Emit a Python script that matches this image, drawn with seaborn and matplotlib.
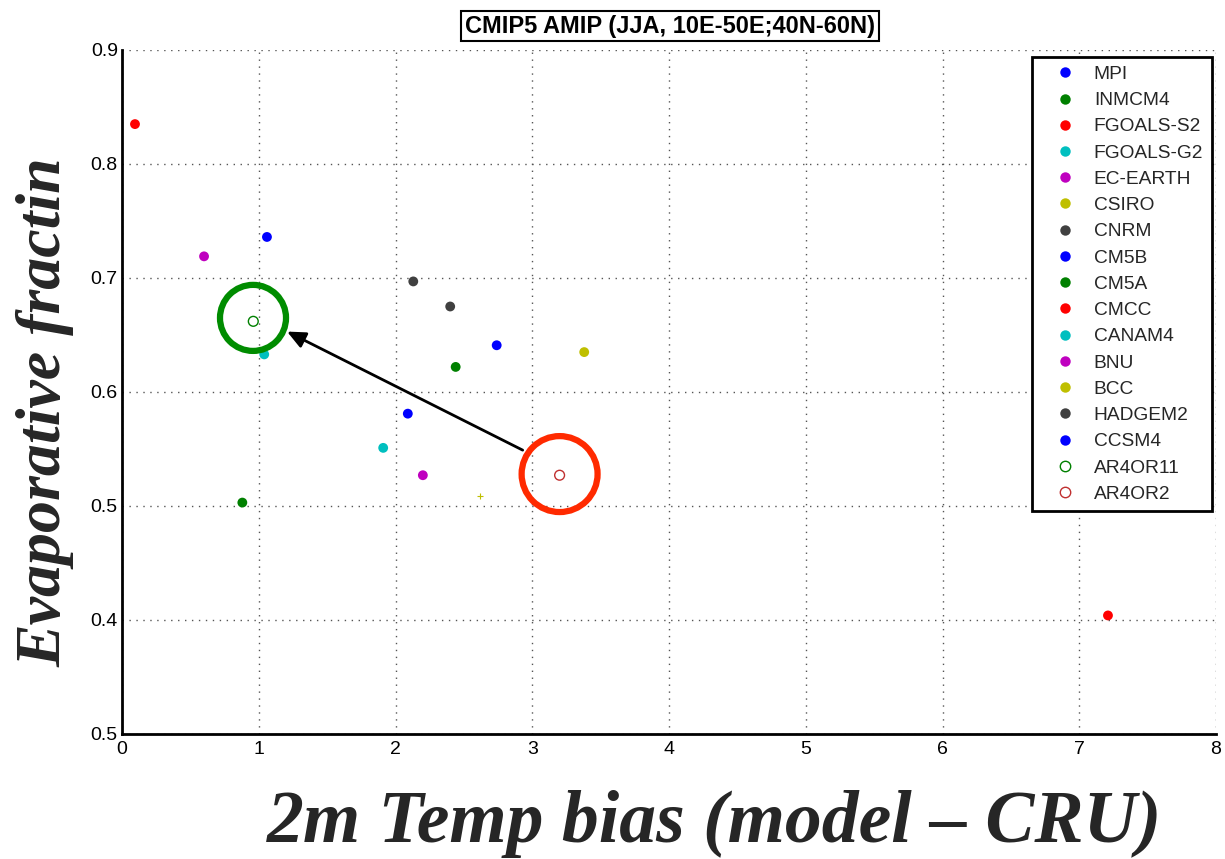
import matplotlib
matplotlib.use("Agg")
import matplotlib.pyplot as plt
from matplotlib.lines import Line2D
import seaborn as sns
import pandas as pd

# ---- data ----
models = ["MPI", "INMCM4", "FGOALS-S2", "FGOALS-G2", "EC-EARTH", "CSIRO", "CNRM",
          "CM5B", "CM5A", "CMCC", "CANAM4", "BNU", "BCC", "HADGEM2", "CCSM4"]
temp_bias = [1.06, 0.88, 0.095, 1.04, 0.60, 2.62, 2.13,
             2.74, 2.44, 7.21, 1.91, 2.20, 3.38, 2.40, 2.09]
evap_frac = [0.736, 0.503, 0.835, 0.633, 0.719, 0.509, 0.697,
             0.641, 0.622, 0.404, 0.551, 0.527, 0.635, 0.675, 0.581]
model_colors = ["#0000ff", "#008000", "#ff0000", "#00bfbf", "#bf00bf", "#bfbf00", "#404040",
                "#0000ff", "#008000", "#ff0000", "#00bfbf", "#bf00bf", "#bfbf00", "#404040", "#0000ff"]

rcm_runs = ["AR4OR11", "AR4OR2"]
rcm_bias = [0.96, 3.20]
rcm_evap = [0.662, 0.527]
rcm_colors = ["#008000", "#c03030"]

# highlight rings (centers) and arrow
ring_x = [0.958, 3.20]
ring_y = [0.665, 0.528]
ring_colors = ["#008c00", "#ff2a00"]
arrow_start = (2.93, 0.549)
arrow_end = (1.207, 0.653)

xticks = [0, 1, 2, 3, 4, 5, 6, 7, 8]
yticks = [0.3, 0.4, 0.5, 0.6, 0.7, 0.8, 0.9]
ytick_labels = ["0.5", "0.4", "0.5", "0.6", "0.7", "0.8", "0.9"]

title = "CMIP5 AMIP (JJA, 10E-50E;40N-60N)"
xlabel = "2m Temp bias (model – CRU)"
ylabel = "Evaporative fractin"

df = pd.DataFrame({"model": models, "bias": temp_bias, "ef": evap_frac})
palette = dict(zip(models, model_colors))

sns.set_style("white")
plt.rcParams["font.family"] = ["Liberation Sans", "DejaVu Sans"]

fig = plt.figure(figsize=(12.25, 8.59), dpi=100)
ax = fig.add_axes([122 / 1225, 1 - 734 / 859, 1094 / 1225, 684 / 859])

small = df["model"] == "CSIRO"
sns.scatterplot(data=df[~small], x="bias", y="ef", hue="model", palette=palette,
                s=50, edgecolor="none", legend=False, ax=ax, zorder=3)
sns.scatterplot(data=df[small], x="bias", y="ef", hue="model", palette=palette,
                s=14, marker="+", linewidth=0.8, legend=False, ax=ax, zorder=3)
for x, y, c in zip(rcm_bias, rcm_evap, rcm_colors):
    ax.scatter([x], [y], s=50, facecolors="none", edgecolors=c, linewidths=1.0, zorder=3)

# rings and arrow
for x, y, c, s in zip(ring_x, ring_y, ring_colors, [2260, 2990]):
    ax.scatter([x], [y], s=s, facecolors="none", edgecolors=c, linewidths=4.5, zorder=4)
ax.annotate("", xy=arrow_end, xytext=arrow_start,
            arrowprops=dict(arrowstyle="-|>,head_length=1.1,head_width=0.5",
                            color="black", lw=2.0, shrinkA=0, shrinkB=0), zorder=5)

ax.set_xlim(0, 8)
ax.set_ylim(0.3, 0.9)
ax.set_xticks(xticks)
ax.set_yticks(yticks)
ax.set_yticklabels(ytick_labels)
ax.set_xlabel("")
ax.set_ylabel("")
ax.grid(True, linestyle=(0, (1, 4)), color="#555555", linewidth=1.0)
ax.set_axisbelow(True)
for side in ["top", "right"]:
    ax.spines[side].set_visible(False)
for side in ["left", "bottom"]:
    ax.spines[side].set_color("black")
    ax.spines[side].set_linewidth(2.0)
ax.tick_params(axis="both", direction="in", length=7, width=2, labelsize=14,
               colors="black", pad=5)
ax.tick_params(axis="y", pad=3)

# legend
handles = []
for m, c in zip(models, model_colors):
    handles.append(Line2D([], [], marker="o", linestyle="none", markersize=7.5,
                          markerfacecolor=c, markeredgecolor="none", label=m))
for m, c in zip(rcm_runs, rcm_colors):
    handles.append(Line2D([], [], marker="o", linestyle="none", markersize=7.5,
                          markerfacecolor="none", markeredgecolor=c, markeredgewidth=1.0, label=m))
leg = ax.legend(handles=handles, loc="upper right", bbox_to_anchor=(0.9963, 0.9898),
                borderaxespad=0, frameon=True, fancybox=False, fontsize=13.8,
                labelspacing=0.46, handlelength=2.6, handletextpad=0.2,
                borderpad=0.45)
leg.get_frame().set_edgecolor("black")
leg.get_frame().set_linewidth(2.0)
leg.get_frame().set_facecolor("white")
leg.get_frame().set_alpha(1)

# title box
fig.text(670 / 1225, 1 - 26 / 859, title, ha="center", va="center", fontsize=17,
         fontweight="bold", color="black",
         bbox=dict(boxstyle="square,pad=0.15", facecolor="white", edgecolor="black", linewidth=1.5))

# big axis labels
fig.text(45 / 1225, 1 - 412 / 859, ylabel, rotation=90, ha="center", va="center",
         fontsize=46, fontweight="bold", fontstyle="italic", family="Liberation Serif")
fig.text(715 / 1225, 1 - 824 / 859, xlabel, ha="center", va="center",
         fontsize=53, fontweight="bold", fontstyle="italic", family="Liberation Serif")

fig.savefig("out.png", dpi=100)
